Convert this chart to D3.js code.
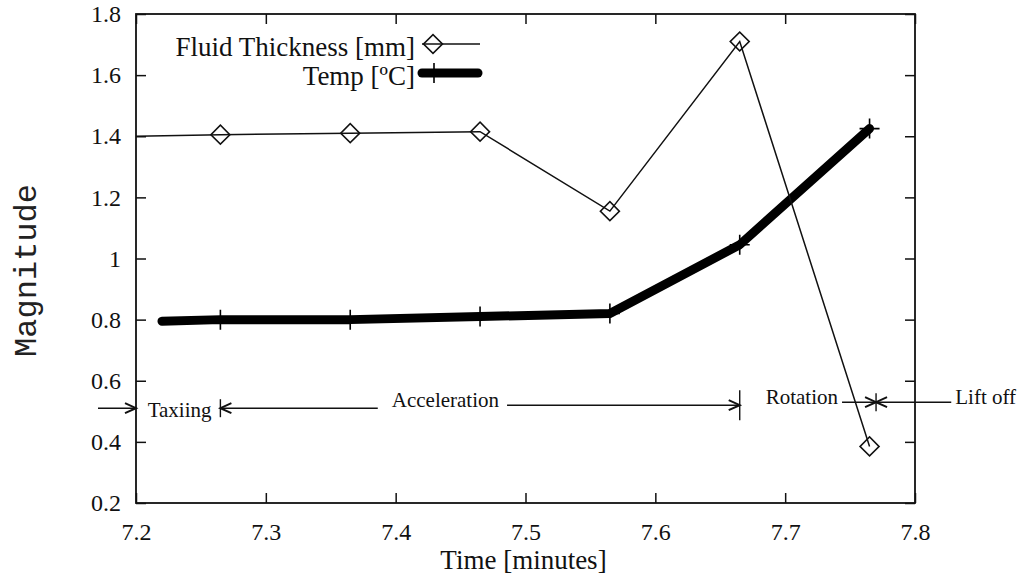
<!DOCTYPE html>
<html>
<head>
<meta charset="utf-8">
<script src="https://cdn.jsdelivr.net/npm/d3@7"></script>
<style>
  html, body { margin: 0; padding: 0; background: #fff; }
  svg { display: block; }
</style>
</head>
<body>
<svg id="chart" width="1027" height="577"></svg>
<script>
// ---------------- data ----------------
const fluidTime  = [7.2, 7.265, 7.365, 7.465, 7.565, 7.665, 7.765];
const fluidValue = [1.40, 1.405, 1.41, 1.415, 1.155, 1.71, 0.385];
const tempTime   = [7.22, 7.265, 7.365, 7.465, 7.565, 7.665, 7.765];
const tempValue  = [0.795, 0.80, 0.80, 0.81, 0.82, 1.045, 1.425];

const xTicks = [7.2, 7.3, 7.4, 7.5, 7.6, 7.7, 7.8];
const yTicks = [0.2, 0.4, 0.6, 0.8, 1.0, 1.2, 1.4, 1.6, 1.8];

const seriesNames = ["Fluid Thickness [mm]", "Temp [\u00BAC]"];
const phaseNames  = ["Taxiing", "Acceleration", "Rotation", "Lift off"];
const phaseBounds = [7.2, 7.265, 7.665, 7.77];
const phaseLabelX = [7.209, 7.397, 7.685, 7.831];
const phaseLevel  = 0.52;

const xLabel = "Time [minutes]";
const yLabel = "Magnitude";

// ---------------- layout ----------------
const W = 1027, H = 577;
const m = { left: 136, right: 112, top: 14, bottom: 74 };
const svg = d3.select("#chart");
svg.append("rect").attr("width", W).attr("height", H).attr("fill", "#fff");

const x = d3.scaleLinear().domain([7.2, 7.8]).range([m.left, W - m.right]);
const y = d3.scaleLinear().domain([0.2, 1.8]).range([H - m.bottom, m.top]);

const ink = "#111";
const serif = "'Liberation Serif', 'Times New Roman', serif";

// axes (inward ticks on all four sides)
function styleAxis(g) {
  g.attr("font-family", serif).attr("font-size", 24);
  g.selectAll(".domain").remove();
  g.selectAll(".tick line").attr("stroke", ink).attr("stroke-width", 1.5);
  g.selectAll(".tick text").attr("fill", ink)
    .style("font-family", serif).style("font-size", "24px");
}
svg.append("g").attr("transform", `translate(0,${H - m.bottom})`)
  .call(d3.axisBottom(x).tickValues(xTicks).tickFormat(d3.format("")).tickSizeInner(-10).tickSizeOuter(0).tickPadding(20))
  .call(styleAxis);
svg.append("g").attr("transform", `translate(0,${m.top})`)
  .call(d3.axisTop(x).tickValues(xTicks).tickFormat("").tickSizeInner(-10).tickSizeOuter(0))
  .call(styleAxis);
svg.append("g").attr("transform", `translate(${m.left},0)`)
  .call(d3.axisLeft(y).tickValues(yTicks).tickFormat(d3.format("")).tickSizeInner(-10).tickSizeOuter(0).tickPadding(15))
  .call(styleAxis);
svg.append("g").attr("transform", `translate(${W - m.right},0)`)
  .call(d3.axisRight(y).tickValues(yTicks).tickFormat("").tickSizeInner(-10).tickSizeOuter(0))
  .call(styleAxis);

// frame
svg.append("rect")
  .attr("x", x(7.2)).attr("y", y(1.8))
  .attr("width", x(7.8) - x(7.2)).attr("height", y(0.2) - y(1.8))
  .attr("fill", "none").attr("stroke", ink).attr("stroke-width", 1.8);

// axis titles
svg.append("text")
  .attr("x", (x(7.2) + x(7.8)) / 2 - 2).attr("y", 569)
  .attr("text-anchor", "middle").attr("font-family", serif).attr("font-size", 27)
  .attr("fill", ink).text(xLabel);
svg.append("text")
  .attr("transform", `translate(36,${(y(0.2) + y(1.8)) / 2 + 12}) rotate(-90)`)
  .attr("text-anchor", "middle").attr("font-family", "'Liberation Mono', 'DejaVu Sans Mono', monospace")
  .attr("font-size", 32).attr("fill", "#222").text(yLabel);

// ---------------- series ----------------
const fluid = fluidTime.map((t, i) => ({ t, v: fluidValue[i] }));
const temp  = tempTime.map((t, i) => ({ t, v: tempValue[i] }));
const line = d3.line().x(d => x(d.t)).y(d => y(d.v));

svg.append("path").datum(temp).attr("d", line)
  .attr("fill", "none").attr("stroke", "#000").attr("stroke-width", 9)
  .attr("stroke-linecap", "round").attr("stroke-linejoin", "round");
svg.append("path").datum(fluid).attr("d", line)
  .attr("fill", "none").attr("stroke", ink).attr("stroke-width", 1.5);

const diamond = d3.symbol().type(d3.symbolSquare).size(180);
function drawDiamond(g, cx, cy) {
  g.append("path").attr("d", diamond())
    .attr("transform", `translate(${cx},${cy}) rotate(45)`)
    .attr("fill", "none").attr("stroke", ink).attr("stroke-width", 1.6);
}
function drawPlus(g, cx, cy) {
  g.append("path").attr("d", `M${cx - 10},${cy}H${cx + 10}M${cx},${cy - 10}V${cy + 10}`)
    .attr("stroke", "#000").attr("stroke-width", 1.6);
}
const marks = svg.append("g");
fluid.forEach((d, i) => { if (i > 0) drawDiamond(marks, x(d.t), y(d.v)); });
temp.forEach((d, i) => { if (i > 0) drawPlus(marks, x(d.t), y(d.v)); });

// ---------------- legend ----------------
const leg = svg.append("g");
const legRight = 415;
leg.append("text").attr("x", legRight).attr("y", 56).attr("text-anchor", "end")
  .attr("font-family", serif).attr("font-size", 27).attr("fill", ink).text(seriesNames[0]);
leg.append("text").attr("x", legRight).attr("y", 85).attr("text-anchor", "end")
  .attr("font-family", serif).attr("font-size", 27).attr("fill", ink).text(seriesNames[1]);
leg.append("path").attr("d", "M422,44H480").attr("stroke", ink).attr("stroke-width", 1.5);
drawDiamond(leg, 433, 44);
leg.append("path").attr("d", "M422,73H478").attr("stroke", "#000").attr("stroke-width", 9)
  .attr("stroke-linecap", "round");
drawPlus(leg, 434, 73);

// ---------------- phase annotations ----------------
const ann = svg.append("g");
const ly = y(phaseLevel);
function arrow(x0, x1, yy) {
  const dir = Math.sign(x1 - x0);
  ann.append("path").attr("d", `M${x0},${yy}H${x1}`).attr("stroke", ink).attr("stroke-width", 1.4);
  ann.append("path").attr("d", `M${x1 - dir * 11},${yy - 5}L${x1},${yy}L${x1 - dir * 11},${yy + 5}`)
    .attr("fill", "none").attr("stroke", ink).attr("stroke-width", 2);
}
const labelDy = [12, 2, -1, -1];
const texts = phaseNames.map((n, i) => ann.append("text")
  .attr("x", x(phaseLabelX[i])).attr("y", ly + labelDy[i])
  .attr("font-family", serif).attr("font-size", 21).attr("fill", ink).text(n));
const tw = texts.map(t => t.node().getComputedTextLength());

// Taxiing: arrow from outside the frame to its start
arrow(x(phaseBounds[0]) - 38, x(phaseBounds[0]), ly + 3);
// Acceleration both sides
arrow(x(phaseLabelX[1]) - 14, x(phaseBounds[1]), ly + 3);
arrow(x(phaseLabelX[1]) + tw[1] + 8, x(phaseBounds[2]), ly);
// Rotation to lift-off boundary
arrow(x(phaseLabelX[2]) + tw[2] + 4, x(phaseBounds[3]), ly - 3);
// Lift off back to boundary
arrow(x(phaseLabelX[3]) - 4, x(phaseBounds[3]), ly - 3);
// boundary bars
[[1, 9, 3], [2, 15, 0], [3, 9, -3]].forEach(([i, h, off]) => {
  const bx = x(phaseBounds[i]);
  ann.append("path").attr("d", `M${bx},${ly + off - h}V${ly + off + h}`)
    .attr("stroke", ink).attr("stroke-width", 1.4);
});
</script>
</body>
</html>
